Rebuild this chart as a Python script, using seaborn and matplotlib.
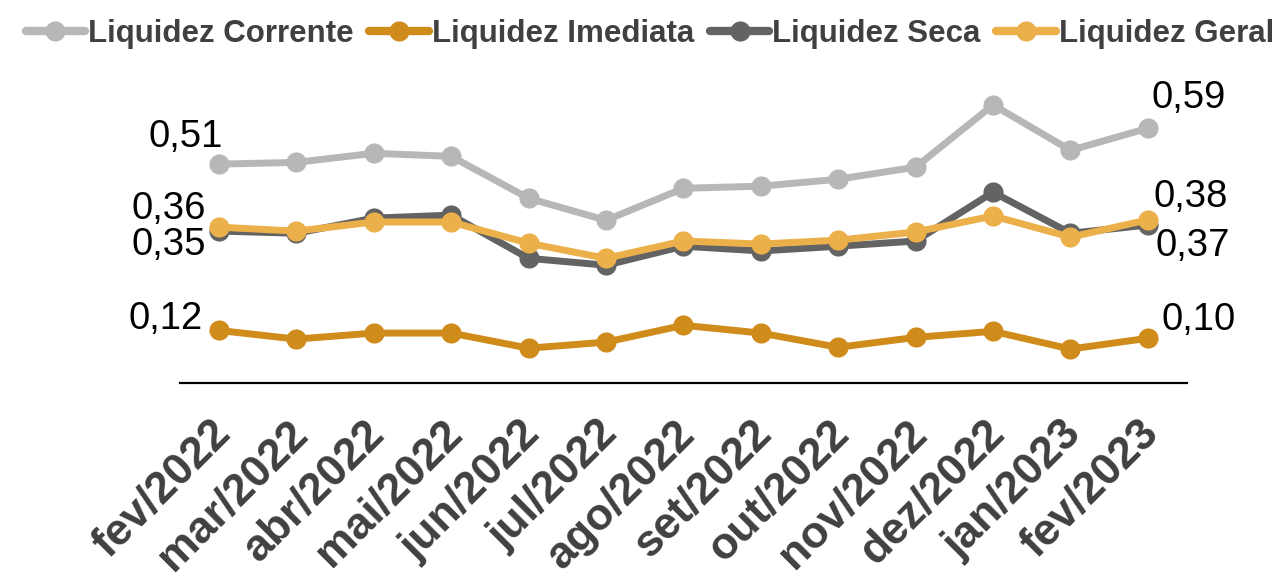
import pandas as pd
import matplotlib.pyplot as plt
import matplotlib.transforms as mtransforms
from matplotlib.lines import Line2D
import seaborn as sns

# months on the x axis
meses = ['fev/2022', 'mar/2022', 'abr/2022', 'mai/2022', 'jun/2022', 'jul/2022',
         'ago/2022', 'set/2022', 'out/2022', 'nov/2022', 'dez/2022', 'jan/2023', 'fev/2023']

# values
corrente = [0.507, 0.511, 0.532, 0.525, 0.428, 0.377, 0.451, 0.456, 0.472, 0.500, 0.644, 0.539, 0.590]
imediata = [0.122, 0.102, 0.116, 0.116, 0.081, 0.095, 0.134, 0.116, 0.083, 0.106, 0.120, 0.079, 0.104]
seca = [0.352, 0.347, 0.382, 0.389, 0.289, 0.273, 0.317, 0.306, 0.317, 0.329, 0.442, 0.347, 0.366]
geral = [0.361, 0.352, 0.373, 0.373, 0.324, 0.289, 0.329, 0.322, 0.331, 0.350, 0.387, 0.338, 0.378]

series = ['Liquidez Corrente', 'Liquidez Imediata', 'Liquidez Seca', 'Liquidez Geral']
cores = ['#B7B7B7', '#CF8C1B', '#636363', '#EBB04A']

# long format for seaborn
df = pd.DataFrame({'Mes': meses * 4,
                   'Indice': corrente + imediata + seca + geral,
                   'Serie': [s for s in series for _ in meses]})
df['x'] = list(range(len(meses))) * 4

sns.set_style('white')
plt.rcParams['font.family'] = ['Liberation Sans', 'DejaVu Sans']

fig = plt.figure(figsize=(12.87, 5.85), dpi=100)
ax = fig.add_axes([0.14, 0.345, 0.782, 0.517])

sns.lineplot(data=df, x='x', y='Indice', hue='Serie', hue_order=series,
             palette=cores, marker='o', markersize=14.5, markeredgewidth=0,
             linewidth=5, legend=False, ax=ax)

ax.set_xlim(-0.5, len(meses) - 0.5)
ax.set_ylim(0, 0.7)
ax.set_xlabel('')
ax.set_ylabel('')
ax.set_yticks([])
ax.set_xticks(range(len(meses)))
ax.set_xticklabels(meses, rotation=45, ha='right', va='center', rotation_mode='anchor',
                   fontsize=32, fontweight='bold', color='#404040')
ax.tick_params(axis='x', length=0, pad=32)
offset = mtransforms.ScaledTranslation(5 / 100, 0, fig.dpi_scale_trans)
for lbl in ax.get_xticklabels():
    lbl.set_transform(lbl.get_transform() + offset)

for s in ['top', 'right', 'left']:
    ax.spines[s].set_visible(False)
ax.spines['bottom'].set_color('black')
ax.spines['bottom'].set_linewidth(1.6)

def fmt(v):
    return f'{v:.2f}'.replace('.', ',')

# data labels for first and last points
n = len(meses) - 1
labels = [
    (0, corrente[0], (-33, 27)), (0, geral[0], (-50, 18)),
    (0, seca[0], (-50, -14)), (0, imediata[0], (-53, 11)),
    (n, corrente[n], (41, 30)), (n, geral[n], (43, 23)),
    (n, seca[n], (45, -21)), (n, imediata[n], (51, 18)),
]
for xi, v, off in labels:
    ax.annotate(fmt(v), (xi, v), xytext=off, textcoords='offset pixels',
                ha='center', va='center', fontsize=27.5, color='black')

handles = [Line2D([0], [0], color=c, linewidth=6, marker='o', markersize=14.5,
                  markeredgewidth=0) for c in cores]
fig.legend(handles, series, loc='upper center', bbox_to_anchor=(0.505, 1.015), ncol=4,
           frameon=False, handlelength=1.9, handletextpad=0.1, columnspacing=0.5,
           prop={'size': 22.5, 'weight': 'bold'}, labelcolor='#404040')

fig.savefig('out.png', dpi=100)
